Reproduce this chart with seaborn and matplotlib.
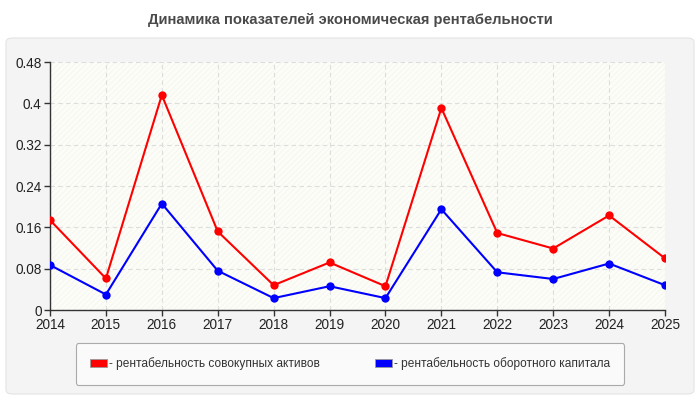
import matplotlib
matplotlib.use('Agg')
import matplotlib.pyplot as plt
import seaborn as sns
import pandas as pd
from matplotlib.patches import FancyBboxPatch, Rectangle, Patch

# Данные
years = [2014, 2015, 2016, 2017, 2018, 2019, 2020, 2021, 2022, 2023, 2024, 2025]
rent_aktivov = [0.174, 0.061, 0.416, 0.152, 0.048, 0.092, 0.046, 0.391, 0.149, 0.119, 0.183, 0.100]
rent_oborot = [0.087, 0.030, 0.206, 0.076, 0.023, 0.046, 0.023, 0.195, 0.073, 0.060, 0.090, 0.048]
yticks = [0, 0.08, 0.16, 0.24, 0.32, 0.4, 0.48]
ytick_labels = ['0', '0.08', '0.16', '0.24', '0.32', '0.4', '0.48']
name_a = 'рентабельность совокупных активов'
name_b = 'рентабельность оборотного капитала'
title = 'Динамика показателей экономическая рентабельности'

sns.set_theme(style='white')
plt.rcParams['font.family'] = ['Liberation Sans', 'DejaVu Sans']
plt.rcParams['hatch.color'] = '#f3f3f0'
plt.rcParams['hatch.linewidth'] = 0.5

fig = plt.figure(figsize=(7, 4), dpi=100)
fig.patch.set_facecolor('white')

# серая подложка
fig.patches.append(FancyBboxPatch((6 / 700, 6 / 400), 688 / 700, 356 / 400,
                                  boxstyle='round,pad=0,rounding_size=0.01',
                                  transform=fig.transFigure, facecolor='#f4f4f4',
                                  edgecolor='#e4e4e4', linewidth=0.8, zorder=-10))

fig.text(0.5, 1 - 20 / 400, title, ha='center', va='center',
         fontsize=10.6, fontweight='bold', color='#4a4a4a')

ax = fig.add_axes([50 / 700, 90 / 400, 615 / 700, 248 / 400])
ax.set_zorder(1)
ax.set_facecolor('#fdfdf8')
ax.add_patch(Rectangle((0, 0), 1, 1, transform=ax.transAxes, facecolor='none',
                       hatch='//////', edgecolor='#f3f3f0', linewidth=0, zorder=0))

df = pd.DataFrame({'year': years, 'a': rent_aktivov, 'b': rent_oborot})
sns.lineplot(data=df, x='year', y='a', color='#ff0000', marker='o', markersize=6,
             markeredgewidth=0, linewidth=1.5, ax=ax, zorder=3)
sns.lineplot(data=df, x='year', y='b', color='#0000ff', marker='o', markersize=6,
             markeredgewidth=0, linewidth=1.5, ax=ax, zorder=3)

ax.set_xlim(2014, 2025)
ax.set_ylim(0, 0.48)
ax.set_xticks(years)
ax.set_xticklabels([str(y) for y in years])
ax.set_yticks(yticks)
ax.set_yticklabels(ytick_labels)
ax.set_xlabel('')
ax.set_ylabel('')
ax.grid(True, color='#dddddd', linestyle=(0, (4, 3)), linewidth=0.8)
ax.set_axisbelow(True)
for s in ['top', 'right']:
    ax.spines[s].set_visible(False)
for s in ['left', 'bottom']:
    ax.spines[s].set_color('#333333')
    ax.spines[s].set_linewidth(1)
ax.tick_params(axis='both', which='both', length=4, width=1, color='#333333',
               labelsize=9.8, labelcolor='#222222', direction='out',
               bottom=True, left=True, pad=2)

handles = [Patch(facecolor='#ff0000', edgecolor='#999999', linewidth=0.6, label='- ' + name_a),
           Patch(facecolor='#0000ff', edgecolor='#999999', linewidth=0.6, label='- ' + name_b)]
leg = fig.legend(handles=handles, loc='center', ncol=2,
                 bbox_to_anchor=(350 / 700, 1 - 364 / 400),
                 frameon=True, fontsize=8.6, handlelength=1.4, handleheight=0.6,
                 handletextpad=0.2, columnspacing=4.6, borderpad=1.2,
                 fancybox=True, facecolor='#fafafa', edgecolor='#aaaaaa',
                 labelcolor='#333333')
leg.get_frame().set_linewidth(0.8)
leg.get_frame().set_alpha(1)

fig.savefig('out.png', dpi=100)
